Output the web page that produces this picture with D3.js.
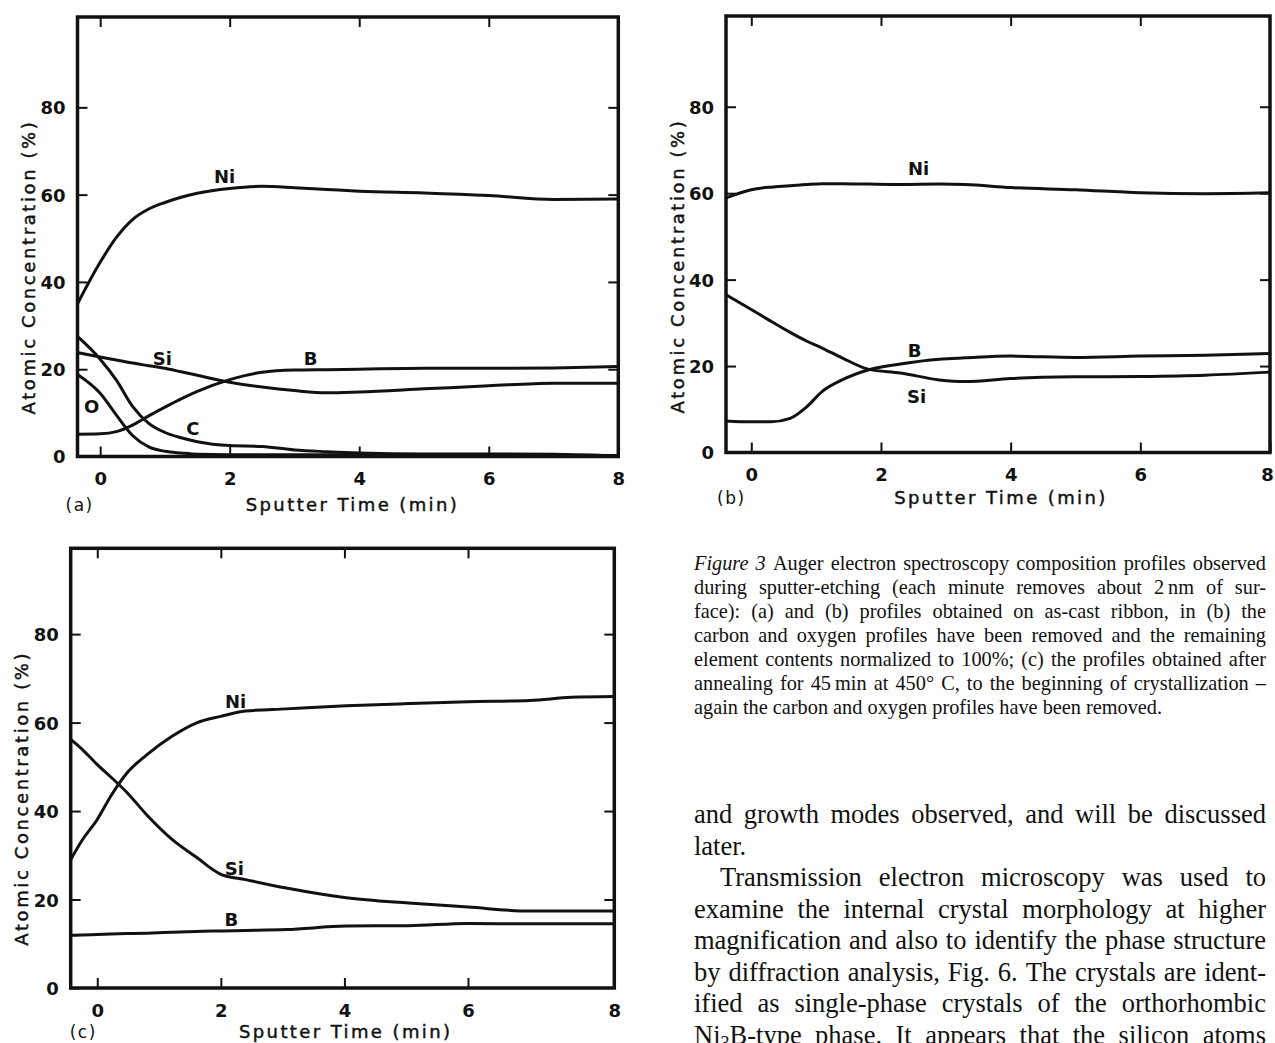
<!DOCTYPE html>
<html>
<head>
<meta charset="utf-8">
<script src="https://cdn.jsdelivr.net/npm/d3@7"></script>
<style>
  html, body { margin: 0; padding: 0; background: #fff; }
  svg { display: block; }
</style>
</head>
<body>
<svg id="figure" width="1275" height="1043"></svg>
<script>
// Auger depth profiles: atomic concentration (%) against sputter time (min)

// (a) as-cast ribbon, all elements
const timeA = [-0.35, 0, 0.25, 0.5, 0.75, 1, 1.25, 1.5, 2, 2.5, 3, 3.5, 4, 5, 6, 7, 8];
const niA = [35.0, 44.5, 50.2, 54.3, 56.7, 58.2, 59.4, 60.3, 61.4, 61.9, 61.6, 61.2, 60.8, 60.4, 59.8, 58.9, 59.0];
const siA = [23.8, 22.8, 22.1, 21.4, 20.8, 20.2, 19.4, 18.6, 17.0, 15.9, 15.1, 14.6, 14.8, 15.5, 16.2, 16.8, 16.8];
const bA  = [5.1, 5.2, 5.7, 7.2, 9.3, 11.3, 13.2, 14.9, 17.6, 19.3, 19.8, 19.9, 20.0, 20.2, 20.2, 20.3, 20.6];
const cA  = [27.5, 22.3, 17.5, 11.5, 7.6, 5.5, 4.3, 3.4, 2.5, 2.3, 1.5, 1.1, 0.8, 0.6, 0.6, 0.5, 0.1];
const oA  = [18.8, 14.5, 9.5, 4.8, 2.2, 1.2, 0.8, 0.5, 0.4, 0.4, 0.4, 0.4, 0.4, 0.4, 0.4, 0.3, 0.2];

// (b) as-cast ribbon, C and O removed, renormalised
const timeB = [-0.39, 0, 0.3, 0.6, 0.85, 1.1, 1.4, 1.8, 2.3, 2.9, 3.3, 4, 5, 6, 7, 8];
const niB = [58.9, 60.8, 61.4, 61.7, 62.0, 62.2, 62.2, 62.1, 62.0, 62.1, 62.0, 61.3, 60.8, 60.1, 59.9, 60.1];
const siB = [36.5, 33.1, 30.4, 27.8, 25.8, 24.1, 21.9, 19.3, 18.4, 16.8, 16.4, 17.1, 17.5, 17.6, 17.9, 18.6];
const bB  = [7.3, 7.1, 7.1, 7.9, 10.5, 14.2, 16.8, 19.1, 20.5, 21.6, 21.9, 22.3, 22.0, 22.3, 22.5, 22.9];

// (c) after 45 min at 450 °C, C and O removed
const timeC = [-0.43, -0.24, 0, 0.22, 0.48, 0.81, 1.21, 1.6, 2, 2.4, 3.06, 4.03, 5.04, 6, 6.85, 7.41, 8];
const niC = [29.0, 33.5, 38.1, 43.4, 48.6, 52.8, 56.9, 59.9, 61.4, 62.6, 63.1, 63.8, 64.3, 64.7, 65.0, 65.7, 65.9];
const siC = [56.2, 53.9, 50.5, 47.7, 44.2, 39.0, 33.6, 29.6, 25.7, 24.5, 22.6, 20.4, 19.2, 18.3, 17.4, 17.4, 17.4];
const bC  = [11.9, 12.0, 12.1, 12.2, 12.3, 12.4, 12.6, 12.8, 12.9, 13.0, 13.2, 14.0, 14.1, 14.6, 14.5, 14.5, 14.5];

// axis ticks
const xTickValues = [0, 2, 4, 6, 8];
const yTickValues = [0, 20, 40, 60, 80];
const xTitle = "Sputter Time (min)";
const yTitle = "Atomic Concentration (%)";

const INK = "#111";
const SANS = "'DejaVu Sans', sans-serif";
const SERIF = "'Liberation Serif', 'Times New Roman', serif";

const svg = d3.select("#figure");

const panels = [
  {
    tag: "(a)", tagDx: -12, titleDy: 54,
    box: { left: 77.5, right: 618.3, top: 17, bottom: 456.5 },
    xDomain: [-0.35, 8], yDomain: [0, 100.7],
    time: timeA,
    series: [
      { name: "Ni", values: niA, at: [1.92, 62.6] },
      { name: "Si", values: siA, at: [0.96, 21.0] },
      { name: "B",  values: bA,  at: [3.25, 21.0] },
      { name: "C",  values: cA,  at: [1.43, 4.9] },
      { name: "O",  values: oA,  at: [-0.13, 9.9] }
    ]
  },
  {
    tag: "(b)", tagDx: -9, titleDy: 51, lastTickDx: -3,
    box: { left: 726, right: 1270, top: 16, bottom: 452.5 },
    xDomain: [-0.39, 8], yDomain: [0, 101],
    time: timeB,
    series: [
      { name: "Ni", values: niB, at: [2.58, 64.2] },
      { name: "B",  values: bB,  at: [2.52, 22.2] },
      { name: "Si", values: siB, at: [2.55, 11.5] }
    ]
  },
  {
    tag: "(c)", tagDx: -1, titleDy: 50,
    box: { left: 70.7, right: 614.3, top: 548.3, bottom: 988 },
    // the printed time axis is stretched between 6 and 8 min
    xDomain: [-0.43, 6, 8], xStops: [0, 397.3], yDomain: [0, 99.4],
    time: timeC,
    series: [
      { name: "Ni", values: niC, at: [2.24, 63.3] },
      { name: "Si", values: siC, at: [2.22, 25.6] },
      { name: "B",  values: bC,  at: [2.17, 14.0] }
    ]
  }
];

panels.forEach(p => {
  const b = p.box;
  const xRange = p.xStops
    ? [b.left, b.left + p.xStops[1], b.right]
    : [b.left, b.right];
  const x = d3.scaleLinear().domain(p.xDomain).range(xRange);
  const y = d3.scaleLinear().domain(p.yDomain).range([b.bottom, b.top]);
  const g = svg.append("g");

  const styleAxis = sel => {
    sel.select(".domain").remove();
    sel.attr("font-family", SANS).attr("font-size", 18).attr("font-weight", "bold");
    sel.selectAll(".tick line").attr("stroke", INK).attr("stroke-width", 2);
    sel.selectAll(".tick text").attr("fill", INK);
  };

  const bottomAxis = g.append("g").attr("transform", `translate(0,${b.bottom})`)
    .call(d3.axisBottom(x).tickValues(xTickValues).tickSizeInner(-10).tickSizeOuter(0)
      .tickPadding(16).tickFormat(d3.format("d")))
    .call(styleAxis);
  if (p.lastTickDx) {
    bottomAxis.selectAll(".tick text").filter(d => d === 8).attr("dx", p.lastTickDx);
  }
  g.append("g").attr("transform", `translate(0,${b.top})`)
    .call(d3.axisTop(x).tickValues(xTickValues.slice(0, -1)).tickSizeInner(-10).tickSizeOuter(0).tickFormat(""))
    .call(styleAxis);
  g.append("g").attr("transform", `translate(${b.left},0)`)
    .call(d3.axisLeft(y).tickValues(yTickValues).tickSizeInner(-10).tickSizeOuter(0)
      .tickPadding(12).tickFormat(d3.format("d")))
    .call(styleAxis)
    .selectAll(".tick text").attr("dy", "0.36em");
  g.append("g").attr("transform", `translate(${b.right},0)`)
    .call(d3.axisRight(y).tickValues(yTickValues.slice(1)).tickSizeInner(-10).tickSizeOuter(0).tickFormat(""))
    .call(styleAxis);

  // profile curves
  const line = d3.line()
    .x((d, i) => x(p.time[i]))
    .y(d => y(d))
    .curve(d3.curveMonotoneX);
  g.selectAll("path.profile").data(p.series).join("path")
    .attr("class", "profile")
    .attr("d", s => line(s.values))
    .attr("fill", "none")
    .attr("stroke", INK)
    .attr("stroke-width", 3)
    .attr("stroke-linejoin", "round");

  // element labels
  g.selectAll("text.element").data(p.series).join("text")
    .attr("class", "element")
    .attr("x", s => x(s.at[0]))
    .attr("y", s => y(s.at[1]))
    .attr("text-anchor", "middle")
    .attr("font-family", SANS).attr("font-size", 18).attr("font-weight", "bold")
    .attr("fill", INK)
    .text(s => s.name);

  // frame
  g.append("rect")
    .attr("x", b.left).attr("y", b.top)
    .attr("width", b.right - b.left).attr("height", b.bottom - b.top)
    .attr("fill", "none").attr("stroke", INK).attr("stroke-width", 3.5);

  // axis titles and panel tag
  g.append("text")
    .attr("x", b.left + 275).attr("y", b.bottom + p.titleDy)
    .attr("text-anchor", "middle")
    .attr("font-family", SANS).attr("font-size", 18).attr("letter-spacing", 2.4)
    .attr("fill", INK).attr("stroke", INK).attr("stroke-width", 0.45)
    .text(xTitle);
  g.append("text")
    .attr("transform", `translate(${b.left - 49},${b.top + 250}) rotate(-90)`)
    .attr("text-anchor", "middle").attr("dominant-baseline", "central")
    .attr("font-family", SANS).attr("font-size", 18).attr("letter-spacing", 2.6)
    .attr("fill", INK).attr("stroke", INK).attr("stroke-width", 0.45)
    .text(yTitle);
  g.append("text")
    .attr("x", b.left + p.tagDx).attr("y", b.bottom + p.titleDy)
    .attr("font-family", SANS).attr("font-size", 17).attr("letter-spacing", 1.5)
    .attr("fill", INK).text(p.tag);
});

// ---- caption and running text ----
const captionLines = [
  "*Figure* *3* Auger electron spectroscopy composition profiles observed",
  "during sputter-etching (each minute removes about 2\u2009nm of sur-",
  "face): (a) and (b) profiles obtained on as-cast ribbon, in (b) the",
  "carbon and oxygen profiles have been removed and the remaining",
  "element contents normalized to 100%; (c) the profiles obtained after",
  "annealing for 45\u2009min at 450\u00b0 C, to the beginning of crystallization \u2013",
  "again the carbon and oxygen profiles have been removed."
];
const bodyLines = [
  "and growth modes observed, and will be discussed",
  "later.",
  "Transmission electron microscopy was used to",
  "examine the internal crystal morphology at higher",
  "magnification and also to identify the phase structure",
  "by diffraction analysis, Fig. 6. The crystals are ident-",
  "ified as single-phase crystals of the orthorhombic",
  "Ni~3~B-type phase. It appears that the silicon atoms"
];

function typeset(lines, opt) {
  const g = svg.append("g").attr("font-family", SERIF).attr("font-size", opt.size).attr("fill", INK);
  lines.forEach((str, i) => {
    const yPos = opt.y0 + i * opt.lead;
    const x0 = opt.x0 + (opt.indent && opt.indent[i] ? opt.indent[i] : 0);
    const words = str.split(" ");
    const nodes = words.map(w => {
      const t = g.append("text").attr("y", yPos);
      if (/^\*.*\*$/.test(w)) {
        t.attr("font-style", "italic").text(w.slice(1, -1));
      } else if (w.includes("~")) {
        const [pre, sub, post] = w.split("~");
        t.append("tspan").text(pre);
        t.append("tspan").attr("font-size", opt.size * 0.68).attr("dy", opt.size * 0.22).text(sub);
        t.append("tspan").attr("dy", -opt.size * 0.22).text(post);
      } else {
        t.text(w);
      }
      return t;
    });
    let widths = nodes.map(n => n.node().getComputedTextLength());
    let total = d3.sum(widths);
    const ragged = opt.ragged.includes(i) || nodes.length < 2;
    const minGap = opt.size * 0.18;
    const room = opt.x1 - x0;
    // squeeze glyphs slightly when a justified line would otherwise overrun
    if (!ragged && total + minGap * (nodes.length - 1) > room) {
      const k = (room - minGap * (nodes.length - 1)) / total;
      nodes.forEach((n, j) => n.attr("textLength", widths[j] * k).attr("lengthAdjust", "spacingAndGlyphs"));
      widths = widths.map(w => w * k);
      total = d3.sum(widths);
    }
    const gap = ragged ? opt.size * 0.25 : (room - total) / (nodes.length - 1);
    let xPos = x0;
    nodes.forEach((n, j) => { n.attr("x", xPos); xPos += widths[j] + gap; });
  });
}

typeset(captionLines, { x0: 694, x1: 1266, y0: 570, lead: 24, size: 20.3, ragged: [6] });
typeset(bodyLines, { x0: 694, x1: 1266, y0: 823, lead: 31.5, size: 26.5, ragged: [1], indent: { 2: 26 } });
</script>
</body>
</html>
